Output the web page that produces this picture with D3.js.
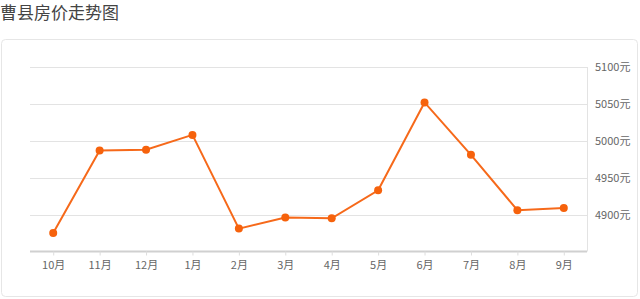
<!DOCTYPE html>
<html><head><meta charset="utf-8">
<script src="https://cdn.jsdelivr.net/npm/d3@7"></script>
<style>
html,body{margin:0;padding:0;background:#fff;}
svg{display:block;font-family:"Noto Sans CJK SC","Noto Sans",sans-serif;}
</style></head>
<body><svg id="c" width="640" height="299"></svg>
<script>
const title = "曹县房价走势图";
const months = ["10月","11月","12月","1月","2月","3月","4月","5月","6月","7月","8月","9月"];
const prices = [4875, 4987, 4988, 5008, 4881, 4896, 4895, 4933, 5052, 4981, 4906, 4909];
const yTicks = [4900, 4950, 5000, 5050, 5100];
const yUnit = "元";

const svg = d3.select("#c");
svg.append("text").attr("x",0).attr("y",19).attr("font-size",17).attr("fill","#444").text(title);
svg.append("rect").attr("x",1.5).attr("y",39.5).attr("width",636).attr("height",257).attr("rx",4)
  .attr("fill","#fff").attr("stroke","#e6e6e6");

const x = d3.scalePoint().domain(months).range([30,587]).padding(0.5);
const y = d3.scaleLinear().domain([4850,5100]).range([251.5,67]);

const g = svg.append("g");
// grid
g.selectAll("line.grid").data(yTicks).join("line")
  .attr("x1",30).attr("x2",587).attr("y1",d=>Math.round(y(d))+0.5).attr("y2",d=>Math.round(y(d))+0.5)
  .attr("stroke","#e3e3e3");
// right border
g.append("line").attr("x1",587.5).attr("x2",587.5).attr("y1",Math.round(y(5100))).attr("y2",251.5).attr("stroke","#e3e3e3");

// y axis labels
const yAxis = d3.axisRight(y).tickValues(yTicks).tickSize(0).tickPadding(0).tickFormat(d=>d+yUnit);
const ya = svg.append("g").attr("transform","translate(595,0)").call(yAxis);
ya.select(".domain").remove();
ya.selectAll("text").attr("font-size",11).attr("fill","#666").attr("font-family","\"Noto Sans CJK SC\",sans-serif");

// x axis
const xAxis = d3.axisBottom(x).tickSize(4).tickPadding(6);
const xa = svg.append("g").attr("transform","translate(0,251.5)").call(xAxis);
xa.select(".domain").attr("d","M30,0H587").attr("stroke","#d0d0d0").attr("stroke-width",2);
xa.selectAll(".tick line").attr("stroke","#ddd");
xa.selectAll("text").attr("font-size",11).attr("fill","#666").attr("font-family","\"Noto Sans CJK SC\",sans-serif");

// line
const line = d3.line().x((d,i)=>x(months[i])).y(d=>y(d));
svg.append("path").datum(prices).attr("d",line).attr("fill","none").attr("stroke","#f6691a").attr("stroke-width",2);
svg.selectAll("circle.pt").data(prices).join("circle")
  .attr("cx",(d,i)=>x(months[i])).attr("cy",d=>y(d)).attr("r",4).attr("fill","#f6620c");
</script></body></html>
